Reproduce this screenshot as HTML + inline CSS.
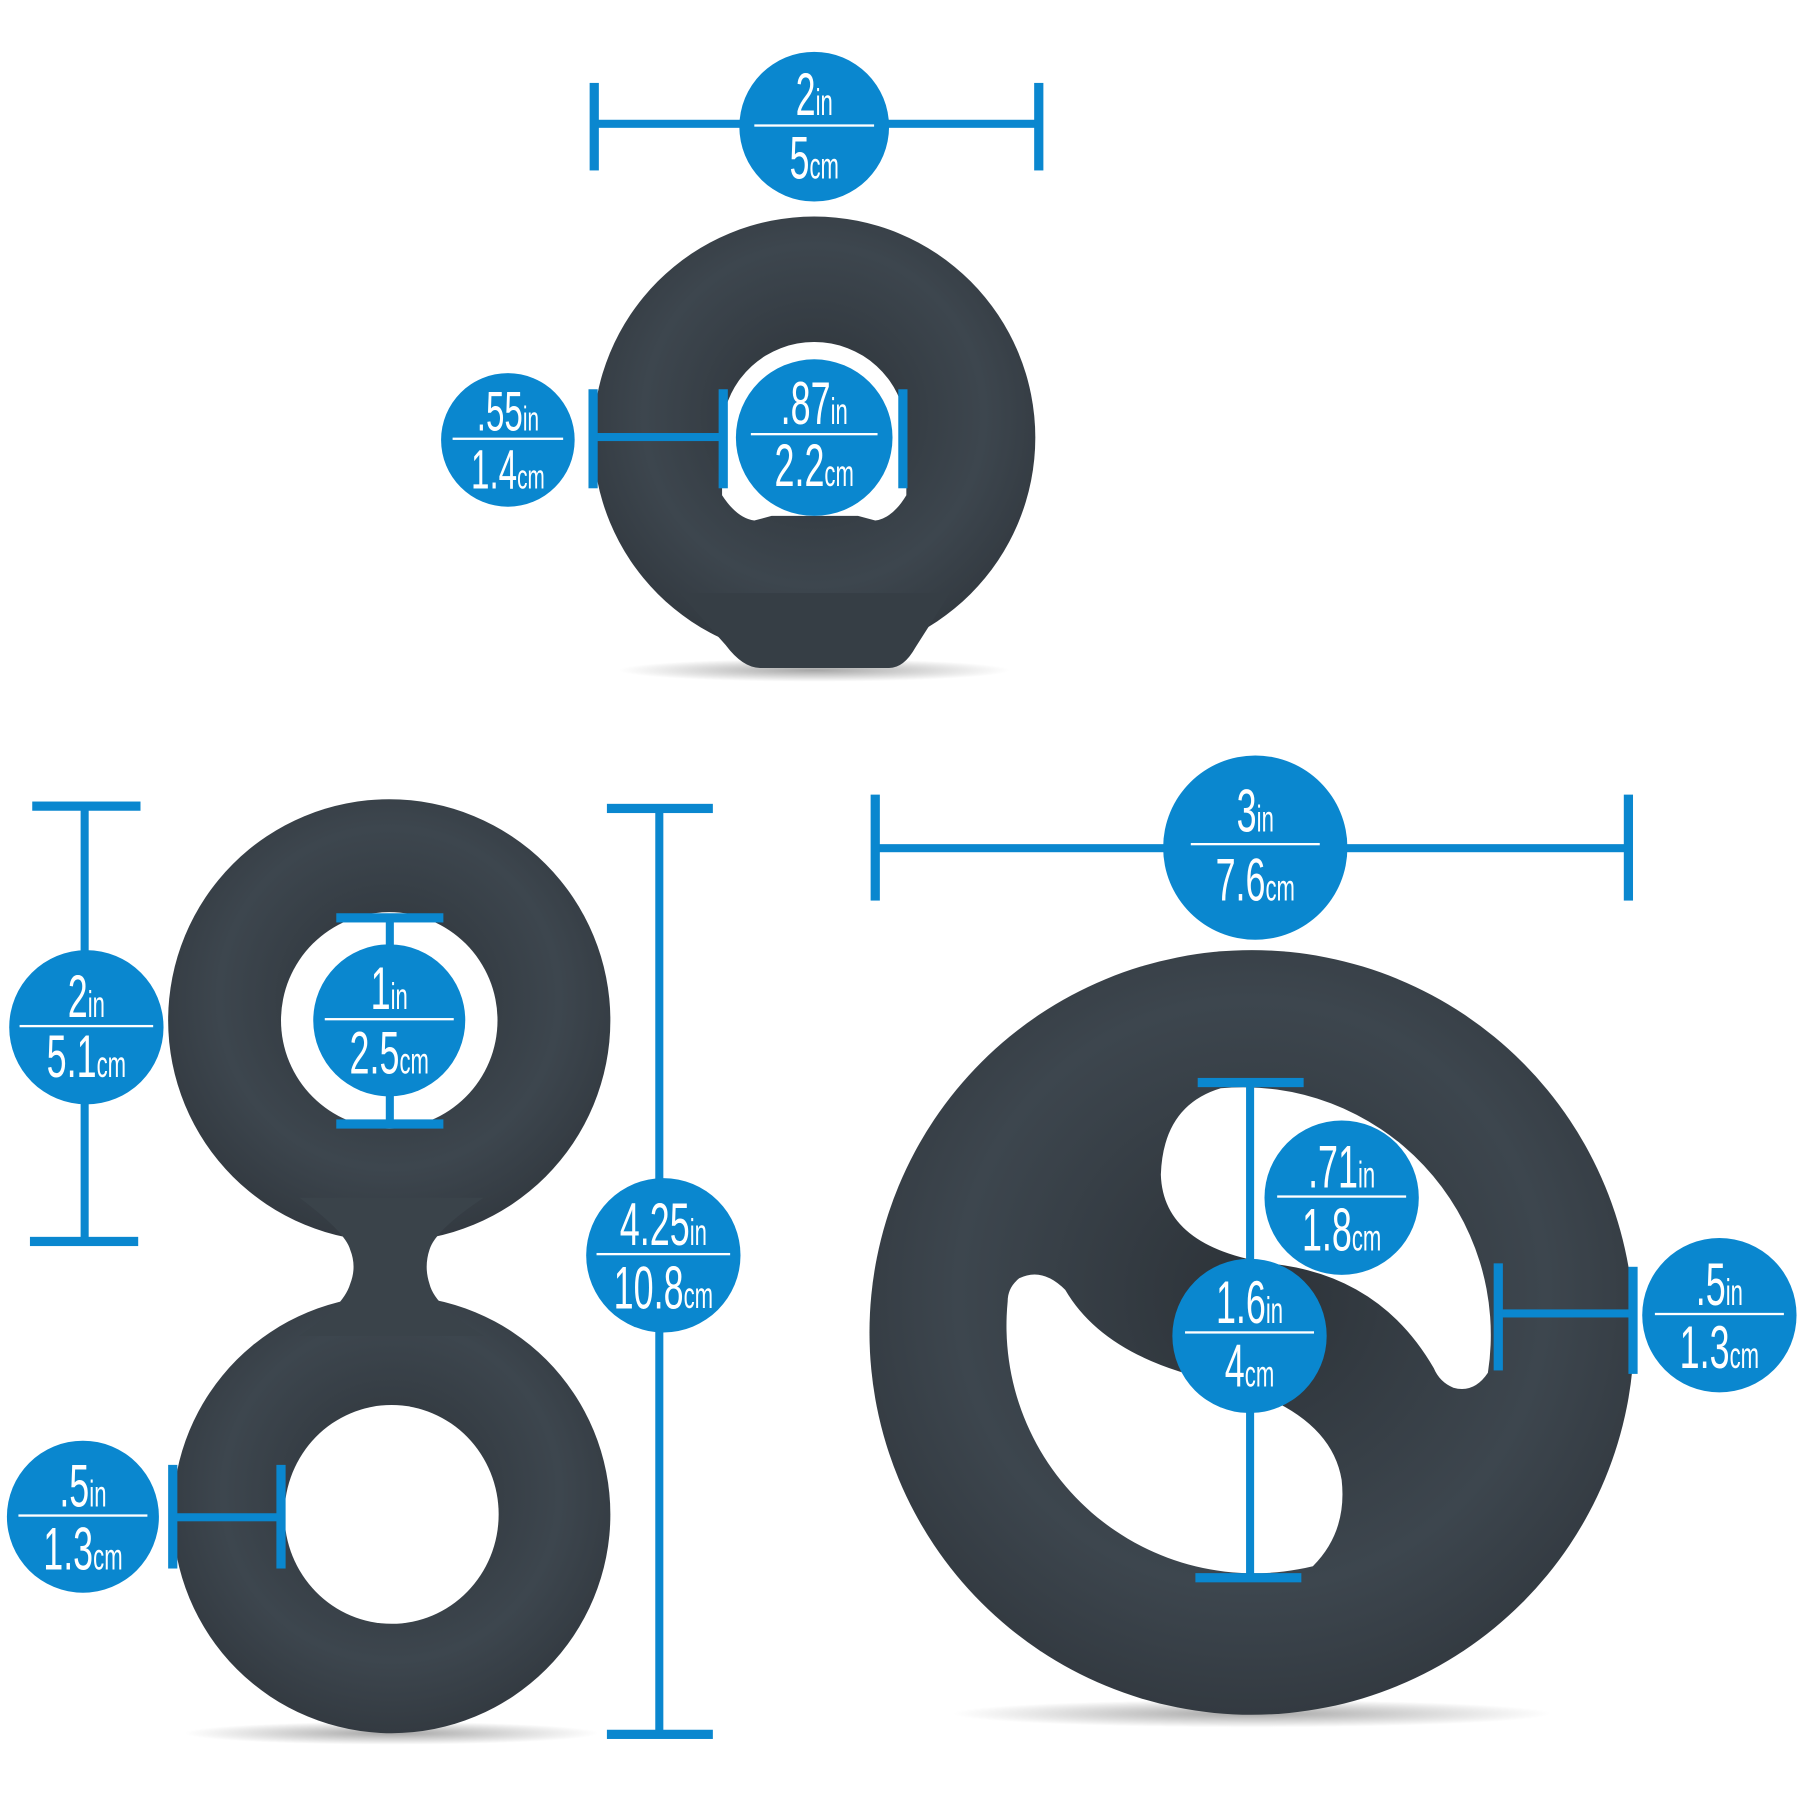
<!DOCTYPE html>
<html><head><meta charset="utf-8"><style>
html,body{margin:0;padding:0;background:#fff;}
svg{display:block}
text{font-family:"Liberation Sans Narrow","Liberation Sans",sans-serif;font-weight:normal;fill:#fff;}
</style></head><body>
<svg width="1800" height="1800" viewBox="0 0 1563 1563" xmlns="http://www.w3.org/2000/svg">
<defs>
<radialGradient id="g" cx="50%" cy="45%" r="55%">
<stop offset="0" stop-color="#2c3238"/><stop offset="0.7" stop-color="#3d464e"/><stop offset="1" stop-color="#333a41"/>
</radialGradient>
<radialGradient id="sh" cx="50%" cy="50%" r="50%"><stop offset="0" stop-color="#000" stop-opacity="0.35"/><stop offset="1" stop-color="#000" stop-opacity="0"/></radialGradient>
</defs>
<ellipse cx="707" cy="582" rx="170" ry="10" fill="url(#sh)"/>
<ellipse cx="340" cy="1505" rx="180" ry="10" fill="url(#sh)"/>
<ellipse cx="1087" cy="1488" rx="260" ry="12" fill="url(#sh)"/>

<circle cx="707" cy="380" r="192" fill="url(#g)"/>
<path d="M590 515 L630 560 Q645 580 660 580 L772 580 Q785 580 795 562 L825 515 Z" fill="#363e45"/>
<path d="M707 297 A80 80 0 0 1 787 370 L787 430 Q775 450 760 452 L745 448 L670 448 L655 452 Q640 450 627 430 L627 370 A80 80 0 0 1 707 297 Z" fill="#fff"/>

<circle cx="338" cy="886" r="192" fill="url(#g)"/>
<circle cx="340" cy="1315" r="190" fill="url(#g)"/>
<path d="M260 1040 Q300 1070 304 1085 Q310 1100 304 1115 Q298 1135 260 1160 L420 1160 Q378 1135 373 1115 Q368 1100 373 1085 Q378 1068 420 1040 Z" fill="#3a434a"/>
<circle cx="338" cy="886" r="94" fill="#fff"/>
<ellipse cx="340" cy="1315" rx="93" ry="95" fill="#fff"/>

<circle cx="1087" cy="1157" r="332" fill="url(#g)"/>
<path d="M1060 945 A215 215 0 0 1 1292 1192 Q1280 1210 1262 1205 Q1250 1200 1245 1188 Q1200 1110 1110 1098 Q1010 1085 1008 1020 Q1010 960 1060 945 Z" fill="#fff"/>
<path d="M875 1130 A215 215 0 0 0 1140 1360 Q1170 1330 1165 1285 Q1155 1225 1060 1200 Q960 1180 925 1120 Q905 1100 885 1110 Q875 1118 875 1130 Z" fill="#fff"/>

<g fill="#0a87cf">
<rect x="516" y="104" width="386" height="7"/><rect x="512" y="72" width="8" height="76"/><rect x="898" y="72" width="8" height="76"/>
<rect x="515" y="376" width="113" height="7"/><rect x="511" y="338" width="8" height="86"/><rect x="624" y="338" width="8" height="86"/><rect x="780" y="338" width="8" height="86"/>
<rect x="70" y="700" width="7" height="378"/><rect x="28" y="696" width="94" height="8"/><rect x="26" y="1074" width="94" height="8"/>
<rect x="335" y="797" width="7" height="179"/><rect x="292" y="793" width="93" height="8"/><rect x="292" y="972" width="93" height="8"/>
<rect x="569" y="702" width="7" height="804"/><rect x="527" y="698" width="92" height="8"/><rect x="527" y="1502" width="92" height="8"/>
<rect x="150" y="1314" width="94" height="7"/><rect x="146" y="1272" width="8" height="90"/><rect x="240" y="1272" width="8" height="90"/>
<rect x="760" y="733" width="654" height="7"/><rect x="756" y="690" width="8" height="92"/><rect x="1410" y="690" width="8" height="92"/>
<rect x="1082" y="940" width="7" height="430"/><rect x="1040" y="936" width="92" height="8"/><rect x="1038" y="1366" width="92" height="8"/>
<rect x="1301" y="1137" width="117" height="7"/><rect x="1297" y="1097" width="8" height="93"/><rect x="1414" y="1100" width="8" height="93"/>
</g>

<g>
<g transform="translate(707,110)"><circle r="65" fill="#0a87cf"/><rect x="-52" y="-2" width="104" height="2" fill="#fff"/><text y="-10" text-anchor="middle" font-size="52" transform="scale(0.6,1)">2<tspan font-size="32">in</tspan></text><text y="45" text-anchor="middle" font-size="52" transform="scale(0.6,1)">5<tspan font-size="32">cm</tspan></text></g>
<g transform="translate(441,382)"><circle r="58" fill="#0a87cf"/><rect x="-48" y="-2" width="96" height="2" fill="#fff"/><text y="-8" text-anchor="middle" font-size="48" transform="scale(0.6,1)">.55<tspan font-size="30">in</tspan></text><text y="42" text-anchor="middle" font-size="48" transform="scale(0.6,1)">1.4<tspan font-size="30">cm</tspan></text></g>
<g transform="translate(707,380)"><circle r="68" fill="#0a87cf"/><rect x="-55" y="-4" width="110" height="2" fill="#fff"/><text y="-12" text-anchor="middle" font-size="52" transform="scale(0.6,1)">.87<tspan font-size="32">in</tspan></text><text y="42" text-anchor="middle" font-size="52" transform="scale(0.6,1)">2.2<tspan font-size="32">cm</tspan></text></g>
<g transform="translate(75,892)"><circle r="67" fill="#0a87cf"/><rect x="-58" y="-2" width="116" height="2" fill="#fff"/><text y="-9" text-anchor="middle" font-size="52" transform="scale(0.6,1)">2<tspan font-size="32">in</tspan></text><text y="43" text-anchor="middle" font-size="52" transform="scale(0.6,1)">5.1<tspan font-size="32">cm</tspan></text></g>
<g transform="translate(338,886)"><circle r="66" fill="#0a87cf"/><rect x="-56" y="-2" width="112" height="2" fill="#fff"/><text y="-10" text-anchor="middle" font-size="52" transform="scale(0.6,1)">1<tspan font-size="32">in</tspan></text><text y="46" text-anchor="middle" font-size="52" transform="scale(0.6,1)">2.5<tspan font-size="32">cm</tspan></text></g>
<g transform="translate(576,1090)"><circle r="67" fill="#0a87cf"/><rect x="-58" y="-2" width="116" height="2" fill="#fff"/><text y="-9" text-anchor="middle" font-size="52" transform="scale(0.6,1)">4.25<tspan font-size="32">in</tspan></text><text y="46" text-anchor="middle" font-size="52" transform="scale(0.6,1)">10.8<tspan font-size="32">cm</tspan></text></g>
<g transform="translate(72,1317)"><circle r="66" fill="#0a87cf"/><rect x="-56" y="-2" width="112" height="2" fill="#fff"/><text y="-9" text-anchor="middle" font-size="52" transform="scale(0.6,1)">.5<tspan font-size="32">in</tspan></text><text y="46" text-anchor="middle" font-size="52" transform="scale(0.6,1)">1.3<tspan font-size="32">cm</tspan></text></g>
<g transform="translate(1090,736)"><circle r="80" fill="#0a87cf"/><rect x="-56" y="-4" width="112" height="2" fill="#fff"/><text y="-14" text-anchor="middle" font-size="52" transform="scale(0.6,1)">3<tspan font-size="32">in</tspan></text><text y="46" text-anchor="middle" font-size="52" transform="scale(0.6,1)">7.6<tspan font-size="32">cm</tspan></text></g>
<g transform="translate(1165,1040)"><circle r="67" fill="#0a87cf"/><rect x="-56" y="-2" width="112" height="2" fill="#fff"/><text y="-9" text-anchor="middle" font-size="52" transform="scale(0.6,1)">.71<tspan font-size="32">in</tspan></text><text y="46" text-anchor="middle" font-size="52" transform="scale(0.6,1)">1.8<tspan font-size="32">cm</tspan></text></g>
<g transform="translate(1085,1160)"><circle r="67" fill="#0a87cf"/><rect x="-56" y="-4" width="112" height="2" fill="#fff"/><text y="-11" text-anchor="middle" font-size="52" transform="scale(0.6,1)">1.6<tspan font-size="32">in</tspan></text><text y="44" text-anchor="middle" font-size="52" transform="scale(0.6,1)">4<tspan font-size="32">cm</tspan></text></g>
<g transform="translate(1493,1142)"><circle r="67" fill="#0a87cf"/><rect x="-56" y="-2" width="112" height="2" fill="#fff"/><text y="-9" text-anchor="middle" font-size="52" transform="scale(0.6,1)">.5<tspan font-size="32">in</tspan></text><text y="46" text-anchor="middle" font-size="52" transform="scale(0.6,1)">1.3<tspan font-size="32">cm</tspan></text></g>
</g>
</svg>
</body></html>
